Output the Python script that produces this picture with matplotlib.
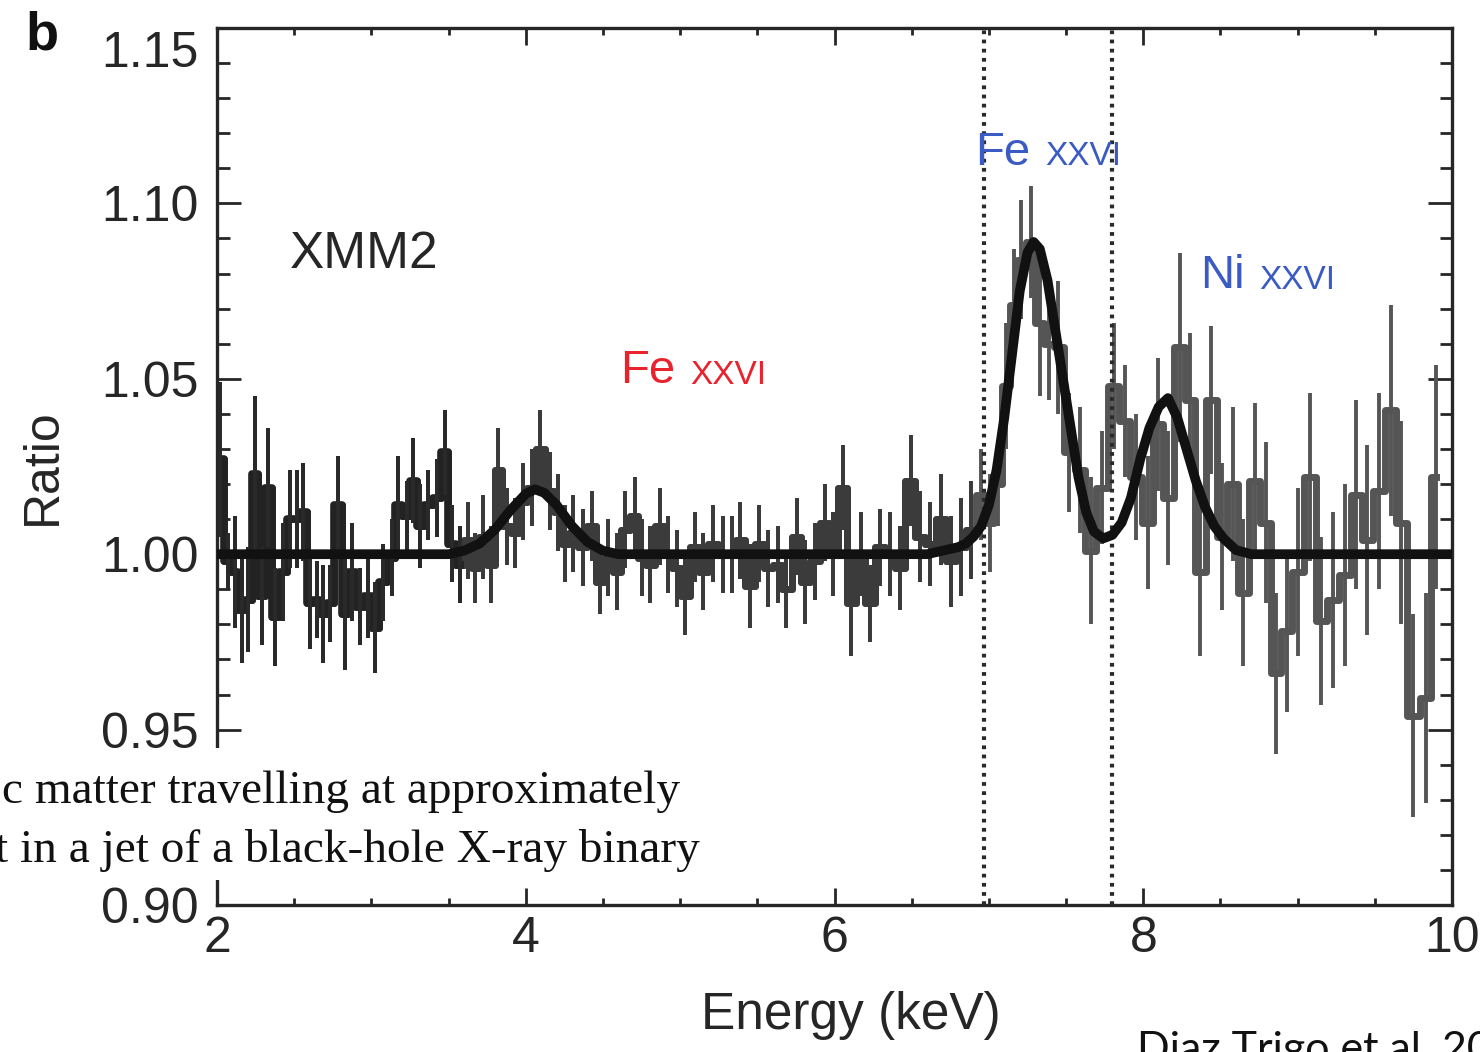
import matplotlib.pyplot as plt
from matplotlib.patches import Rectangle
from matplotlib.ticker import MultipleLocator, FixedLocator, FixedFormatter

# binned ratio data (bin centre keV, ratio, 1-sigma error)
energy = [2.02, 2.07, 2.117, 2.16, 2.203, 2.246, 2.289, 2.332, 2.376, 2.429,
          2.473, 2.516, 2.559, 2.602, 2.645, 2.689, 2.732, 2.786, 2.829, 2.872,
          2.926, 2.98, 3.023, 3.077, 3.131, 3.174, 3.228, 3.271, 3.315, 3.369,
          3.423, 3.477, 3.52, 3.574, 3.628, 3.671, 3.725, 3.775, 3.822, 3.876,
          3.93, 3.984, 4.038, 4.092, 4.157, 4.21, 4.254, 4.308, 4.372, 4.427,
          4.48, 4.534, 4.593, 4.642, 4.707, 4.75, 4.804, 4.869, 4.923, 4.977,
          5.031, 5.096, 5.15, 5.214, 5.275, 5.333, 5.391, 5.452, 5.512, 5.571,
          5.635, 5.689, 5.754, 5.808, 5.873, 5.938, 5.991, 6.052, 6.11, 6.171,
          6.229, 6.294, 6.358, 6.423, 6.494, 6.553, 6.618, 6.693, 6.754, 6.818,
          6.883, 6.952, 7.006, 7.06, 7.11, 7.16, 7.21, 7.27, 7.33, 7.39,
          7.45, 7.52, 7.59, 7.66, 7.73, 7.81, 7.88, 7.95, 8.03, 8.096,
          8.161, 8.237, 8.301, 8.366, 8.442, 8.507, 8.582, 8.647, 8.722, 8.792,
          8.863, 8.928, 9.003, 9.079, 9.154, 9.23, 9.305, 9.381, 9.452, 9.528,
          9.608, 9.672, 9.748, 9.834, 9.899]
ratio = [1.027, 0.998, 0.995, 0.984, 0.987, 1.023, 0.988, 1.019, 0.982, 0.995,
         1.010, 1.010, 1.012, 0.986, 0.987, 0.983, 0.986, 1.014, 0.983, 0.995,
         0.985, 0.988, 0.979, 0.992, 0.999, 1.014, 1.011, 1.021, 1.008, 1.014,
         1.016, 1.029, 1.003, 0.997, 1.004, 0.996, 1.005, 0.997, 1.024, 1.008,
         1.006, 1.015, 1.019, 1.030, 1.018, 1.012, 1.003, 1.006, 1.002, 1.008,
         0.992, 0.999, 0.995, 1.007, 1.011, 0.999, 0.997, 1.008, 1.000, 0.996,
         0.988, 1.002, 0.995, 1.003, 1.000, 1.000, 1.004, 0.991, 1.003, 0.996,
         0.997, 0.990, 1.005, 0.992, 0.998, 1.009, 1.000, 1.019, 0.986, 1.000,
         0.986, 1.002, 1.000, 0.996, 1.021, 1.005, 1.003, 1.010, 0.998, 1.002,
         1.007, 1.017, 1.009, 1.020, 1.048, 1.071, 1.084, 1.089, 1.066, 1.060,
         1.059, 1.029, 1.024, 1.001, 1.019, 1.048, 1.038, 1.022, 1.009, 1.037,
         1.016, 1.059, 1.044, 0.995, 1.044, 1.005, 1.020, 0.989, 1.021, 1.009,
         0.966, 0.978, 0.995, 1.022, 0.981, 0.987, 0.994, 1.017, 1.004, 1.018,
         1.041, 1.009, 0.954, 0.959, 1.022]
ratio_err = [0.022, 0.008, 0.016, 0.015, 0.015, 0.022, 0.014, 0.017, 0.014, 0.014,
             0.014, 0.014, 0.014, 0.013, 0.011, 0.014, 0.011, 0.014, 0.016, 0.014,
             0.011, 0.012, 0.013, 0.011, 0.011, 0.014, 0.010, 0.012, 0.012, 0.010,
             0.011, 0.012, 0.011, 0.011, 0.011, 0.010, 0.012, 0.011, 0.012, 0.011,
             0.010, 0.011, 0.011, 0.011, 0.011, 0.011, 0.011, 0.011, 0.011, 0.010,
             0.009, 0.011, 0.011, 0.011, 0.011, 0.011, 0.011, 0.011, 0.011, 0.011,
             0.011, 0.010, 0.011, 0.011, 0.011, 0.011, 0.011, 0.012, 0.011, 0.011,
             0.011, 0.011, 0.011, 0.012, 0.011, 0.011, 0.012, 0.012, 0.015, 0.012,
             0.011, 0.011, 0.012, 0.012, 0.013, 0.013, 0.012, 0.013, 0.013, 0.014,
             0.014, 0.013, 0.014, 0.012, 0.018, 0.016, 0.017, 0.016, 0.021, 0.016,
             0.019, 0.017, 0.018, 0.021, 0.016, 0.018, 0.016, 0.018, 0.019, 0.019,
             0.019, 0.027, 0.019, 0.024, 0.021, 0.021, 0.022, 0.021, 0.022, 0.023,
             0.023, 0.023, 0.024, 0.024, 0.024, 0.025, 0.026, 0.027, 0.027, 0.028,
             0.030, 0.029, 0.029, 0.030, 0.032]

# best-fit model (three Gaussian lines on unity)
model_energy = [2.0, 3.5, 3.6, 3.7, 3.8, 3.9, 4.0, 4.06, 4.12, 4.2, 4.3, 4.4, 4.5, 4.6,
                6.6, 6.7, 6.8, 6.85, 6.9, 6.95, 7.0, 7.05, 7.1, 7.15,
                7.2, 7.25, 7.29, 7.33, 7.38, 7.43, 7.48, 7.53, 7.58, 7.63,
                7.68, 7.74, 7.8, 7.86, 7.92, 7.98, 8.04, 8.1, 8.16, 8.22,
                8.28, 8.34, 8.4, 8.46, 8.52, 8.6, 8.7, 10.0]
model_ratio = [1.000, 1.000, 1.001, 1.003, 1.007, 1.0125, 1.0172, 1.0185, 1.0175, 1.014, 1.008, 1.0035, 1.001, 1.000,
               1.000, 1.001, 1.002, 1.003, 1.005, 1.008, 1.014, 1.024, 1.039, 1.057,
               1.075, 1.086, 1.089, 1.087, 1.078, 1.064, 1.050, 1.036, 1.022, 1.012,
               1.0065, 1.0045, 1.0055, 1.009, 1.016, 1.027, 1.036, 1.042, 1.0445, 1.039,
               1.030, 1.021, 1.0135, 1.008, 1.0045, 1.0012, 1.000, 1.000]

line_energies = [6.97, 7.80]
y_ticks = [0.90, 0.95, 1.00, 1.05, 1.10, 1.15]
y_ticklabels = ["0.90", "0.95", "1.00", "1.05", "1.10", ""]

plt.rcParams["font.family"] = ["Liberation Sans", "DejaVu Sans"]
ink = "#262626"
red = "#e8232d"
blue = "#3a5ac4"

fig = plt.figure(figsize=(14.8, 10.52), dpi=100)
ax = fig.add_axes([217 / 1480, 1 - 905 / 1052, 1235 / 1480, 877 / 1052])

# data gets lighter towards high energy in the original
n_dark = sum(e < 3.6 for e in energy)
n_mid = sum(e < 6.9 for e in energy)
ax.step(energy, ratio, where="mid", color="#555555", lw=5, zorder=2)
ax.errorbar(energy, ratio, yerr=ratio_err, fmt="none", ecolor="#555555",
            elinewidth=2.8, capsize=0, zorder=2)
ax.step(energy[:n_mid], ratio[:n_mid], where="mid", color="#3b3b3b", lw=5, zorder=2.1)
ax.errorbar(energy[:n_mid], ratio[:n_mid], yerr=ratio_err[:n_mid], fmt="none",
            ecolor="#3b3b3b", elinewidth=2.8, capsize=0, zorder=2.1)
ax.step(energy[:n_dark], ratio[:n_dark], where="mid", color="#222222", lw=5.5, zorder=2.2)
ax.errorbar(energy[:n_dark], ratio[:n_dark], yerr=ratio_err[:n_dark], fmt="none",
            ecolor="#2a2a2a", elinewidth=2.8, capsize=0, zorder=2.2)

for e in line_energies:
    ax.axvline(e, color="#2a2a2a", lw=3, ls=(0, (0.9, 1.3)), zorder=3)
ax.plot(model_energy, model_ratio, color="#111111", lw=7, zorder=4,
        solid_capstyle="round", solid_joinstyle="round")

ax.set_xlim(2, 10)
ax.set_ylim(0.90, 1.15)
ax.xaxis.set_major_locator(MultipleLocator(2))
ax.xaxis.set_minor_locator(MultipleLocator(0.5))
ax.yaxis.set_major_locator(FixedLocator(y_ticks))
ax.yaxis.set_major_formatter(FixedFormatter(y_ticklabels))
ax.yaxis.set_minor_locator(MultipleLocator(0.01))

ax.tick_params(axis="both", which="both", direction="in", top=True, right=True,
               color=ink, width=2.0, labelcolor=ink, labelsize=36)
ax.tick_params(axis="x", which="major", length=12, pad=8)
ax.tick_params(axis="x", which="minor", length=5)
ax.tick_params(axis="y", which="major", length=17, pad=13)
ax.tick_params(axis="y", which="minor", length=9)
for s in ax.spines.values():
    s.set_linewidth(2.4)
    s.set_color(ink)

# the top label sits a bit below the frame in the original
ax.annotate("1.15", xy=(0, 1.15), xycoords=("axes fraction", "data"),
            xytext=(-13, -19), textcoords="offset points", ha="right",
            va="center", fontsize=36, color=ink, annotation_clip=False)

ax.set_xlabel("Energy (keV)", fontsize=37, color=ink)
ax.xaxis.set_label_coords(0.513, -0.098)
ax.set_ylabel("Ratio", fontsize=36, color=ink)
ax.yaxis.set_label_coords(-0.122, 0.5)

ax.text(2.473, 1.0815, "XMM2", fontsize=37, color=ink, va="baseline")


def ion_label(x, y, elem, color):
    t = ax.text(x, y, elem, fontsize=34, color=color, va="baseline")
    ax.annotate("XXVI", xy=(1, 0), xycoords=t, xytext=(11, 2),
                textcoords="offset points", fontsize=24, color=color,
                va="bottom", ha="left")


ion_label(4.61, 1.0487, "Fe", red)
ion_label(6.909, 1.1109, "Fe", blue)
ion_label(8.367, 1.0758, "Ni", blue)

fig.text(25 / 1480, 1 - 49 / 1052, "b", fontsize=39, weight="bold",
         color="#111111", va="baseline")

# slide overlay: white strip with caption text, and the citation
fig.add_artist(Rectangle((0, 1 - 880 / 1052), 715 / 1480, 132 / 1052,
                         transform=fig.transFigure, facecolor="white",
                         edgecolor="none", zorder=5))
fig.text(680 / 1480, 1 - 803 / 1052, "c matter travelling at approximately",
         family="Liberation Serif", fontsize=34, ha="right", va="baseline",
         color="#111111", zorder=6)
fig.text(700 / 1480, 1 - 862 / 1052, "t in a jet of a black-hole X-ray binary",
         family="Liberation Serif", fontsize=34, ha="right", va="baseline",
         color="#111111", zorder=6)
fig.text(1137 / 1480, 1 - 1062 / 1052, "Diaz Trigo et al. 2013",
         family="Lato", fontsize=31, ha="left", va="baseline",
         color="#111111", zorder=6)

fig.savefig("out.png", dpi=100)
